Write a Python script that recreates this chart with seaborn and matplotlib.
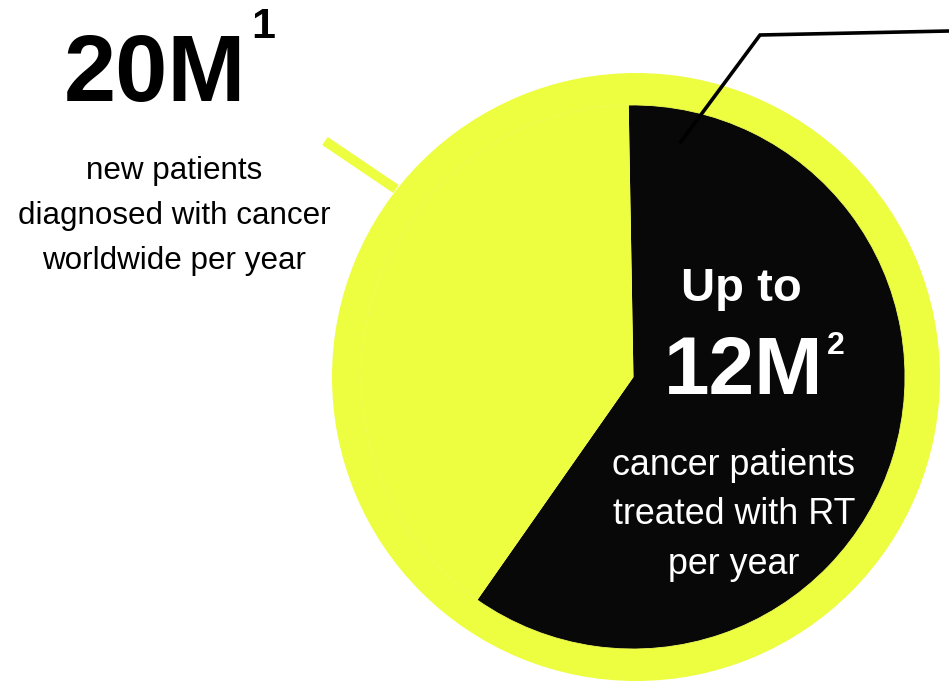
import matplotlib
matplotlib.use("Agg")
import matplotlib.pyplot as plt
import seaborn as sns

# Annual cancer patients, in millions
segments = ["Treated with RT", "Not treated with RT"]
patients_m = [12, 8]
total_m = sum(patients_m)

headline_total = "20M"
headline_total_note = "1"
caption_total = "new patients\ndiagnosed with cancer\nworldwide per year"
headline_rt_prefix = "Up to"
headline_rt = "12M"
headline_rt_note = "2"
caption_rt = "cancer patients\ntreated with RT\nper year"

sns.set_style("white")
plt.rcParams["font.family"] = ["Liberation Sans", "DejaVu Sans"]

YELLOW = "#EDFD3F"
BLACK = "#080808"
W, H = 949, 681

fig = plt.figure(figsize=(W / 100, H / 100), dpi=100)
ax = fig.add_axes([0, 0, 1, 1])

def py(y):
    return H - y

# outer ring for the total
ax.pie([total_m], radius=304, center=(636, py(377)), colors=[YELLOW],
       wedgeprops=dict(linewidth=0))
# share treated with RT
ax.pie(patients_m, radius=272, center=(633, py(377)), colors=[BLACK, YELLOW],
       startangle=91, counterclock=False,
       wedgeprops=dict(linewidth=0.6, edgecolor="#EFFD55"))

# leader lines
ax.plot([325, 396], [py(141), py(189)], color=YELLOW, lw=7, solid_capstyle="butt", zorder=0)
ax.plot([680, 760, 949], [py(143), py(35), py(31)], color="black", lw=2.6,
        solid_capstyle="butt", solid_joinstyle="miter", zorder=5)

# left annotation
ax.text(155, py(76), headline_total, ha="center", va="center", fontsize=67.5,
        fontweight="bold", color="black")
ax.text(263, py(27), headline_total_note, ha="center", va="center", fontsize=31,
        fontweight="bold", color="black")
ax.text(174, py(216), caption_total, ha="center", va="center", fontsize=22.6,
        color="black", linespacing=1.66)

# annotation inside the black wedge
ax.text(741, py(289), headline_rt_prefix, ha="center", va="center", fontsize=34,
        fontweight="bold", color="white")
ax.text(744, py(373), headline_rt, ha="center", va="center", fontsize=59,
        fontweight="bold", color="white")
ax.text(836, py(346), headline_rt_note, ha="center", va="center", fontsize=23,
        fontweight="bold", color="white")
ax.text(734, py(515), caption_rt, ha="center", va="center", fontsize=25.8,
        color="white", linespacing=1.54)

ax.set_xlim(0, W)
ax.set_ylim(0, H)
ax.set_aspect("equal")
ax.axis("off")

fig.savefig("out.png", dpi=100, facecolor="white")
